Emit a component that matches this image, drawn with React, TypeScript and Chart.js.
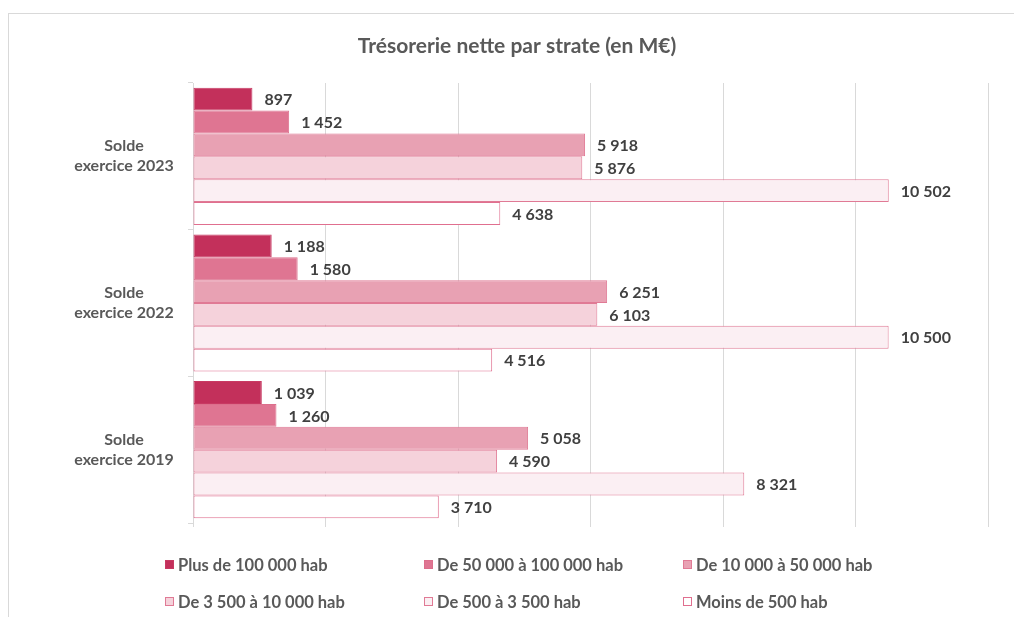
import React, { useEffect, useRef } from "react";
import { Chart, registerables } from "chart.js";

Chart.register(...registerables);

const TITLE = "Trésorerie nette par strate (en M€)";
const CATEGORIES = [["Solde", "exercice 2023"], ["Solde", "exercice 2022"], ["Solde", "exercice 2019"]];
const SERIES_LABELS = [
  "Plus de 100 000 hab",
  "De 50 000 à 100 000 hab",
  "De 10 000 à 50 000 hab",
  "De 3 500 à 10 000 hab",
  "De 500 à 3 500 hab",
  "Moins de 500 hab",
];
const PLUS_100K = [897, 1188, 1039];
const FROM_50K = [1452, 1580, 1260];
const FROM_10K = [5918, 6251, 5058];
const FROM_3500 = [5876, 6103, 4590];
const FROM_500 = [10502, 10500, 8321];
const UNDER_500 = [4638, 4516, 3710];
const SERIES_VALUES = [PLUS_100K, FROM_50K, FROM_10K, FROM_3500, FROM_500, UNDER_500];

const FILLS = ["#C3305B", "#DF7592", "#E8A1B3", "#F5D2DB", "#FBEFF3", "#FFFFFF"];
const BORDERS = ["#C83A63", "#DC6F8C", "#E07A95", "#E07A95", "#E07A95", "#E06F8F"];

const FONT = "Lato, 'Open Sans', sans-serif";
const fmt = (v: number) => String(v).replace(/\B(?=(\d{3})+(?!\d))/g, " ");

const decorPlugin = {
  id: "decor",
  afterDatasetsDraw(chart: any) {
    const ctx = chart.ctx;
    ctx.save();
    ctx.font = `bold 16px ${FONT}`;
    ctx.fillStyle = "#404040";
    ctx.textAlign = "left";
    ctx.textBaseline = "middle";
    chart.data.datasets.forEach((ds: any, i: number) => {
      const meta = chart.getDatasetMeta(i);
      meta.data.forEach((el: any, j: number) => {
        ctx.fillText(fmt(ds.data[j]), el.x + 12, el.y + 1);
      });
    });
    ctx.restore();
  },
  afterDraw(chart: any) {
    const ctx = chart.ctx;
    ctx.save();
    // category labels
    const yScale = chart.scales.y;
    ctx.font = `bold 16px ${FONT}`;
    ctx.fillStyle = "#595959";
    ctx.textAlign = "center";
    ctx.textBaseline = "middle";
    chart.data.labels.forEach((lab: string[], i: number) => {
      const yc = yScale.getPixelForValue(i);
      ctx.fillText(lab[0], 124, yc - 10);
      ctx.fillText(lab[1], 124, yc + 10);
    });
    // title
    ctx.font = `bold 21px ${FONT}`;
    ctx.fillText(TITLE, 517, 46);
    // legend
    const cols = [165, 424, 683];
    const rows = [565, 602];
    ctx.font = `bold 16.5px ${FONT}`;
    ctx.textAlign = "left";
    chart.data.datasets.forEach((ds: any, i: number) => {
      const x = cols[i % 3];
      const y = rows[Math.floor(i / 3)];
      ctx.fillStyle = ds.backgroundColor;
      ctx.fillRect(x, y - 5, 9, 9);
      ctx.strokeStyle = ds.borderColor;
      ctx.lineWidth = 1;
      ctx.strokeRect(x + 0.5, y - 4.5, 8, 8);
      ctx.fillStyle = "#595959";
      ctx.fillText(ds.label, x + 13, y + 1);
    });
    ctx.restore();
  },
};

export default function App() {
  const ref = useRef<HTMLCanvasElement>(null);
  useEffect(() => {
    if (!ref.current) return;
    const chart = new Chart(ref.current, {
      type: "bar",
      data: {
        labels: CATEGORIES as any,
        datasets: SERIES_VALUES.map((vals, i) => ({
          label: SERIES_LABELS[i],
          data: vals,
          backgroundColor: FILLS[i],
          borderColor: BORDERS[i],
          borderWidth: 1,
          borderSkipped: false,
          categoryPercentage: 0.935,
          barPercentage: 1,
        })),
      },
      options: {
        indexAxis: "y",
        responsive: false,
        animation: false,
        layout: { padding: { left: 0, right: 26, top: 83, bottom: 90 } },
        plugins: {
          legend: { display: false },
          title: { display: false },
          tooltip: { enabled: false },
        },
        scales: {
          x: {
            min: 0,
            max: 12000,
            ticks: { display: false, stepSize: 2000 },
            grid: { color: "#d9d9d9", lineWidth: 1, drawTicks: true, tickLength: 4 },
            border: { display: false },
            afterFit: (s: any) => { s.height = 4; },
          },
          y: {
            ticks: { display: false },
            grid: { display: true, drawOnChartArea: false, drawTicks: true, tickLength: 5, color: "#d9d9d9", offset: true },
            border: { display: true, color: "#d9d9d9" },
            afterFit: (s: any) => { s.width = 193; },
          },
        },
      },
      plugins: [decorPlugin],
    } as any);
    return () => chart.destroy();
  }, []);
  return (
    <div style={{ position: "fixed", left: 0, top: 0, width: 1014, height: 617, overflow: "hidden", background: "#fff" }}>
      <div style={{ position: "absolute", left: 8, top: 13, width: 1100, height: 700, border: "1px solid #d9d9d9" }} />
      <canvas ref={ref} width={1014} height={617} style={{ position: "absolute", left: 0, top: 0 }} />
    </div>
  );
}
